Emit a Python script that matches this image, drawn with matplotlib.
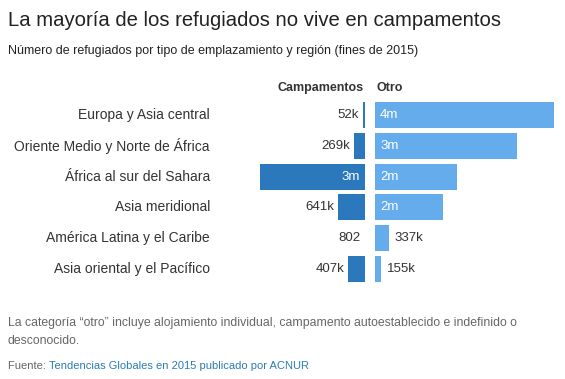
import matplotlib
matplotlib.use("Agg")
import matplotlib.pyplot as plt
import matplotlib.transforms as mtransforms

plt.rcParams['font.family'] = ['Liberation Sans', 'DejaVu Sans']

# --- Data ---
regiones = ["Europa y Asia central", "Oriente Medio y Norte de África",
            "África al sur del Sahara", "Asia meridional",
            "América Latina y el Caribe", "Asia oriental y el Pacífico"]
campamentos = [52000, 269000, 2520000, 641000, 802, 407000]
otro = [4300000, 3400000, 1970000, 1630000, 337000, 155000]

titulo = "La mayoría de los refugiados no vive en campamentos"
subtitulo = "Número de refugiados por tipo de emplazamiento y región (fines de 2015)"
nota = ("La categoría “otro” incluye alojamiento individual, campamento autoestablecido e indefinido o\n"
        "desconocido.")
fuente_link = "Tendencias Globales en 2015 publicado por ACNUR"

color_camp = "#2b78bd"
color_otro = "#65acec"
W, H = 565, 379
px_per_val = 1 / 24000.0   # same scale for both panels


def fmt(v):
    if v >= 1e6:
        return f"{int(v / 1e6 + 0.5)}m"
    if v >= 1e3:
        return f"{int(v / 1e3 + 0.5)}k"
    return f"{v}"


fig = plt.figure(figsize=(W / 100, H / 100), dpi=100)

# panel geometry in pixels
top, bottom = 99.6, 284.4
left_l, right_l = 215, 365
left_r, right_r = 375, 555

axL = fig.add_axes([left_l / W, 1 - bottom / H, (right_l - left_l) / W, (bottom - top) / H])
axR = fig.add_axes([left_r / W, 1 - bottom / H, (right_r - left_r) / W, (bottom - top) / H])

y = list(range(len(regiones)))
for ax, vals, col, width_px in [(axL, campamentos, color_camp, right_l - left_l),
                                (axR, otro, color_otro, right_r - left_r)]:
    ax.barh(y, vals, height=0.85, color=col)
    ax.set_xlim(0, width_px / px_per_val)
    ax.set_ylim(len(regiones) - 0.5, -0.5)
    ax.axis('off')
axL.invert_xaxis()

# value labels
for i, v in enumerate(campamentos):
    if v > 1e6:
        axL.annotate(fmt(v), (0, i), xytext=(-5, 0), textcoords='offset pixels',
                     ha='right', va='center', color='white', fontsize=9.5)
    else:
        axL.annotate(fmt(v), (v, i), xytext=(-4, 0), textcoords='offset pixels',
                     ha='right', va='center', color='#333333', fontsize=9.5)
for i, v in enumerate(otro):
    if v > 1e6:
        axR.annotate(fmt(v), (0, i), xytext=(5, 0), textcoords='offset pixels',
                     ha='left', va='center', color='white', fontsize=9.5)
    else:
        axR.annotate(fmt(v), (v, i), xytext=(5, 0), textcoords='offset pixels',
                     ha='left', va='center', color='#333333', fontsize=9.5)

# category labels
trans = mtransforms.blended_transform_factory(fig.transFigure, axL.transData)
for i, r in enumerate(regiones):
    axL.text(210 / W, i, r, transform=trans, ha='right', va='center',
             color='#333333', fontsize=10)

# column headers
fig.text(364 / W, 1 - 88 / H, "Campamentos", ha='right', va='center',
         fontsize=9, fontweight='bold', color='#333333')
fig.text(377 / W, 1 - 88 / H, "Otro", ha='left', va='center',
         fontsize=9, fontweight='bold', color='#333333')

# titles
fig.text(8 / W, 1 - 20 / H, titulo, ha='left', va='center', fontsize=14.6, color='#222222')
fig.text(8 / W, 1 - 51 / H, subtitulo, ha='left', va='center', fontsize=9, color='#222222')

# footnote and source
fig.text(8 / W, 1 - 332 / H, nota, ha='left', va='center', fontsize=8.8,
         color='#666666', linespacing=1.6)
src = fig.text(8 / W, 1 - 366 / H, "Fuente: ", ha='left', va='center', fontsize=8,
               color='#666666')
axL.annotate(fuente_link, xy=(1, 0.5), xycoords=src, ha='left', va='center',
             fontsize=8, color='#2a7db5', annotation_clip=False)

fig.savefig("out.png", dpi=100)
